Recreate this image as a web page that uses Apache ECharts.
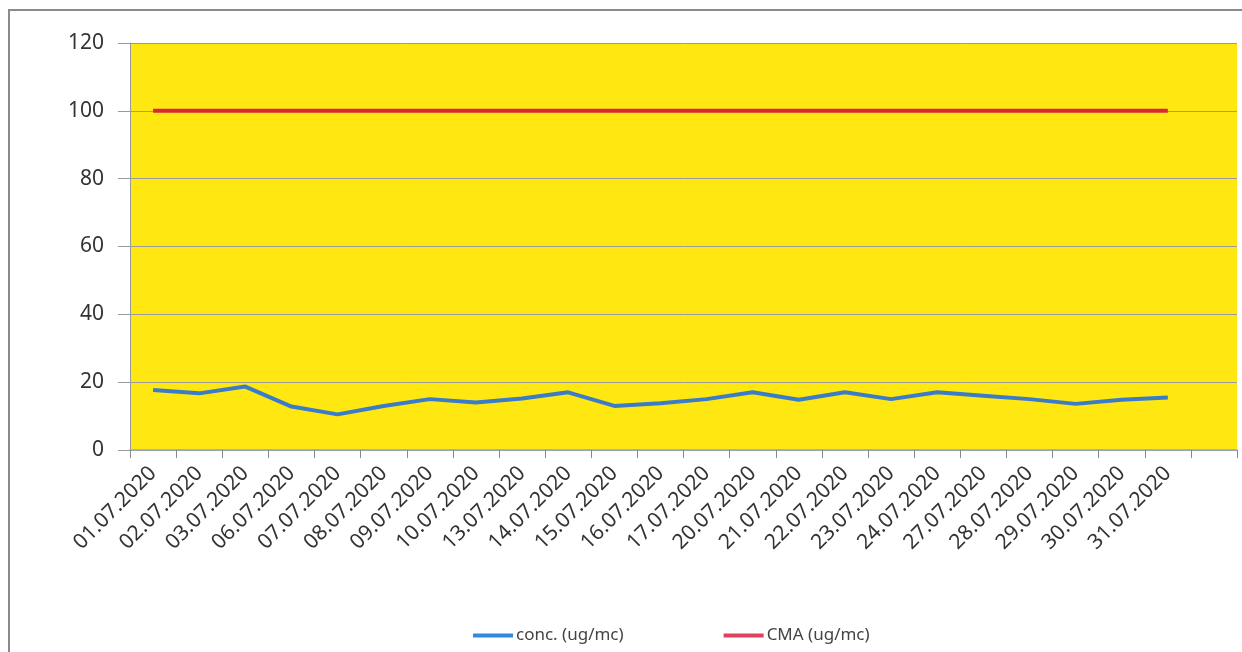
<!DOCTYPE html>
<html>
<head>
<meta charset="utf-8">
<script src="https://cdn.jsdelivr.net/npm/echarts@6/dist/echarts.min.js"></script>
<style>html,body{margin:0;padding:0;background:#fff;}#c{width:1242px;height:652px;}</style>
</head>
<body>
<div id="c"></div>
<script>
const categories = ['01.07.2020','02.07.2020','03.07.2020','06.07.2020','07.07.2020','08.07.2020','09.07.2020','10.07.2020','13.07.2020','14.07.2020','15.07.2020','16.07.2020','17.07.2020','20.07.2020','21.07.2020','22.07.2020','23.07.2020','24.07.2020','27.07.2020','28.07.2020','29.07.2020','30.07.2020','31.07.2020',''];
const concValues = [17.7,16.7,18.7,12.8,10.5,13,15,14,15.2,17,13,13.8,15,17,14.8,17,15,17,16,15,13.6,14.8,15.5,null];
const cmaValues = [100,100,100,100,100,100,100,100,100,100,100,100,100,100,100,100,100,100,100,100,100,100,100,null];
const yTicks = [0,20,40,60,80,100,120];

const chart = echarts.init(document.getElementById('c'));
chart.setOption({
  animation: false,
  textStyle: { fontFamily: 'Noto Sans' },
  graphic: [{
    type: 'rect', shape: { x: 9, y: 10, width: 1250, height: 660 },
    style: { fill: 'none', stroke: '#8a8a8a', lineWidth: 2 }, silent: true, z: -1
  }],
  grid: { left: 130, right: 5, top: 43, bottom: 202, show: true, backgroundColor: '#FFE812', borderWidth: 0 },
  legend: {
    bottom: 3, left: 468, itemGap: 100, itemWidth: 40, itemHeight: 4, icon: 'rect',
    textStyle: { fontSize: 17, color: '#444', padding: [0, 0, 0, -2] },
    data: ['conc. (ug/mc)', 'CMA (ug/mc)']
  },
  xAxis: {
    type: 'category', data: categories, boundaryGap: true,
    axisLine: { lineStyle: { color: '#8fa5d4', width: 1.5 } },
    axisTick: { show: true, length: 8, lineStyle: { color: '#888' } },
    axisLabel: { rotate: 45, interval: 0, fontSize: 21, color: '#333', margin: 20 }
  },
  yAxis: {
    type: 'value', min: yTicks[0], max: yTicks[yTicks.length - 1], interval: 20,
    axisLine: { show: true, lineStyle: { color: '#999' } },
    axisTick: { show: true, length: 12, lineStyle: { color: '#999' } },
    axisLabel: { fontSize: 21, color: '#333', margin: 26 },
    splitLine: { lineStyle: { color: '#9a9a9a', width: 1 } }
  },
  series: [
    { name: 'conc. (ug/mc)', type: 'line', data: concValues, symbol: 'none',
      lineStyle: { color: '#3a7cc8', width: 4 }, itemStyle: { color: '#2f8ae0' } },
    { name: 'CMA (ug/mc)', type: 'line', data: cmaValues, symbol: 'none',
      lineStyle: { color: '#d8283a', width: 4 }, itemStyle: { color: '#e24060' } }
  ]
});
</script>
</body>
</html>
